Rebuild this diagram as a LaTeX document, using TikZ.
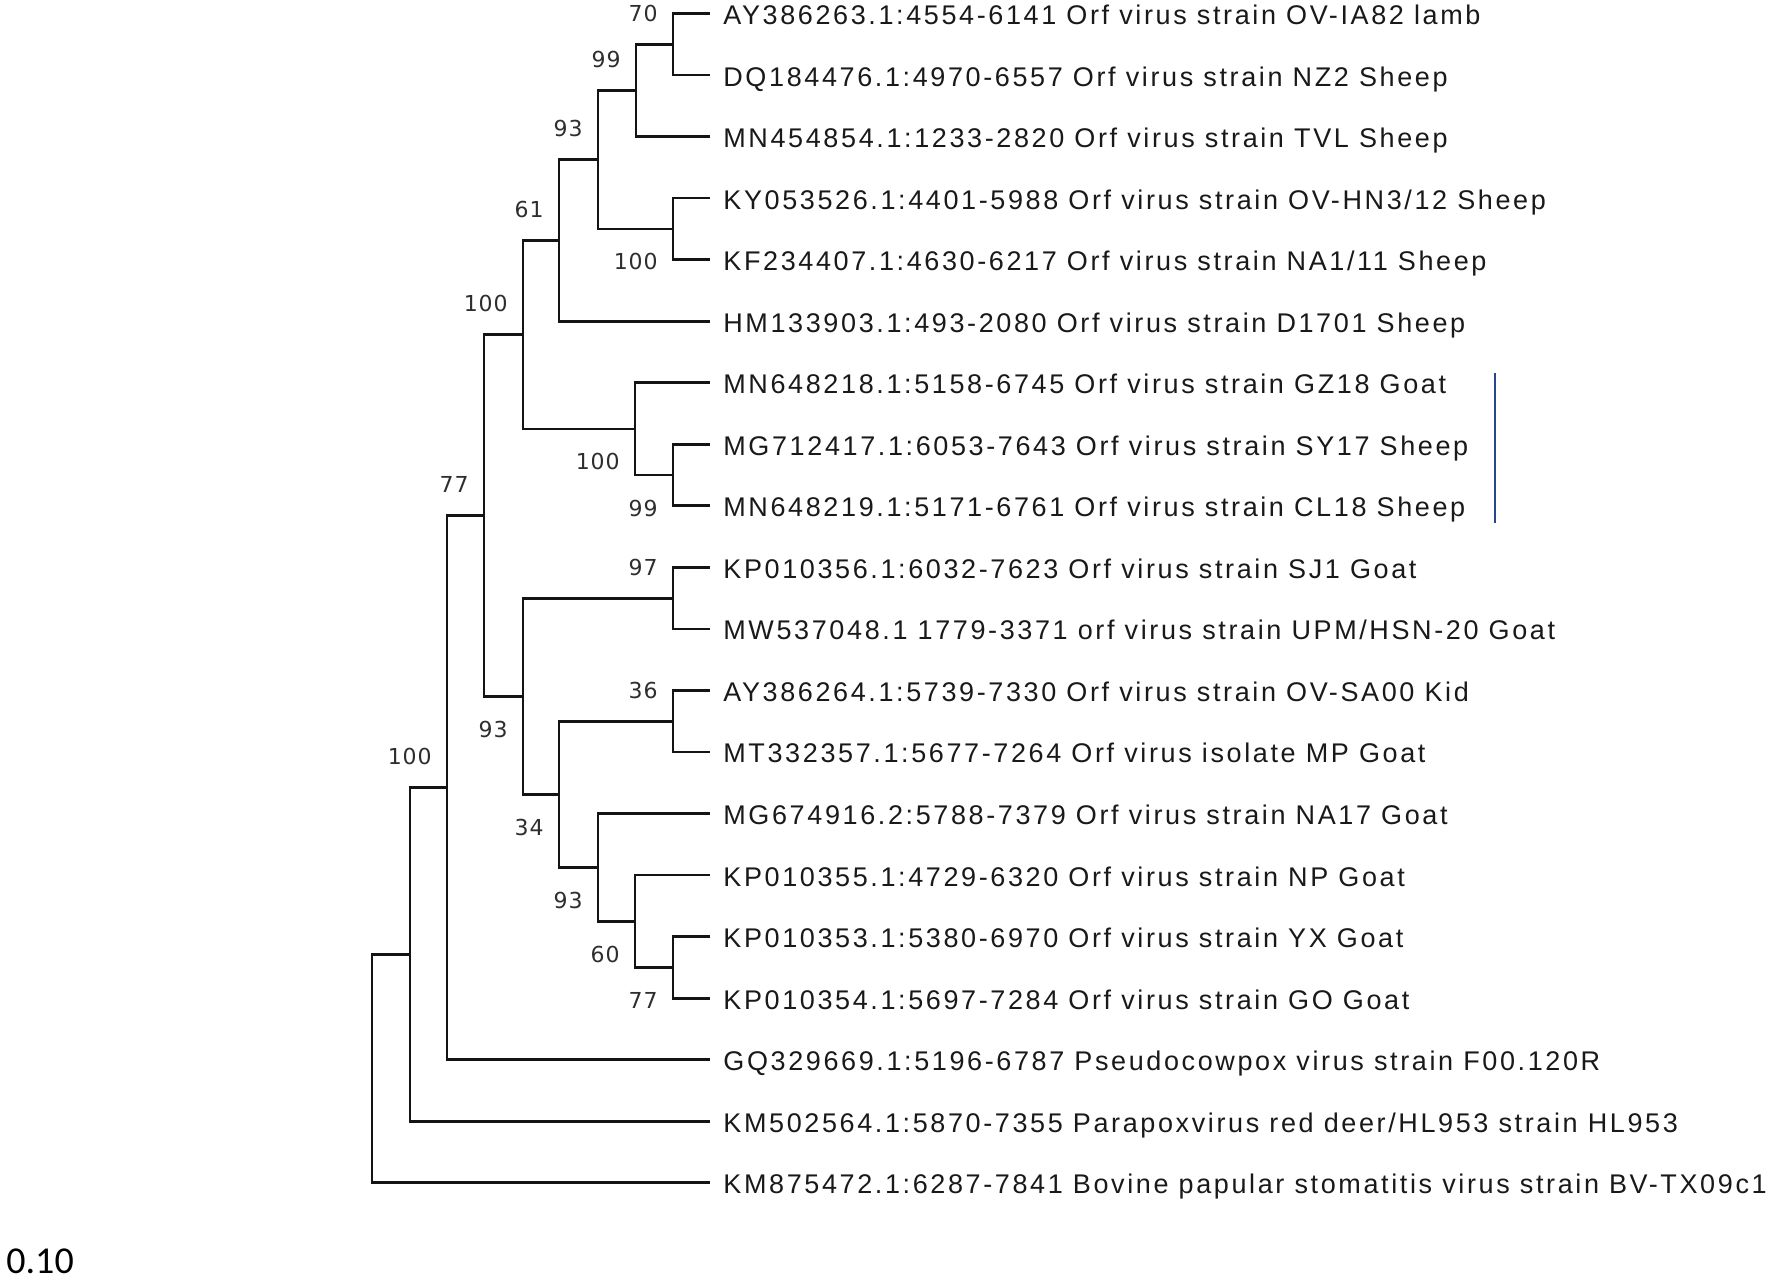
\documentclass[tikz,border=0pt]{standalone}
\usepackage{fontspec}
\newfontfamily\tipfont[LetterSpace=9.7]{Liberation Sans}
\newfontfamily\bsfont[LetterSpace=4]{DejaVu Sans}
\newfontfamily\scfont{Carlito}
\definecolor{bluemark}{RGB}{40,70,140}
\begin{document}
\begin{tikzpicture}[x=0.5pt,y=-0.5pt,
  br/.style={line width=1.35pt, line join=miter, draw=black!92},
  tiplab/.style={anchor=base west, inner sep=0pt, font=\tipfont\fontsize{13.5pt}{16pt}\selectfont, text=black!90},
  bs/.style={anchor=east, inner sep=0pt, font=\bsfont\fontsize{11pt}{13pt}\selectfont, text=black!82},
  bsup/.style={bs, xshift=-7.5pt, yshift=15.5pt},
  bsdn/.style={bs, xshift=-7.5pt, yshift=-16.5pt},
  blueline/.style={draw=bluemark, line width=0.75pt}]
\useasboundingbox (0,0) rectangle (1772,1280);
% tip end points
\foreach \i in {1,...,20}{
  \coordinate (t\i) at (710,{13.5+(\i-1)*61.54});
}
% internal nodes
\coordinate (n70) at (673,44.3);
\coordinate (n99a) at (636,90.4);
\coordinate (n100a) at (673,228.9);
\coordinate (n93a) at (598,159.7);
\coordinate (n61) at (559,240.5);
\coordinate (n99b) at (673,475.0);
\coordinate (n100b) at (635,428.9);
\coordinate (n100c) at (523,334.7);
\coordinate (n97) at (673,598.2);
\coordinate (n36) at (673,721.2);
\coordinate (n77b) at (673,967.4);
\coordinate (n60) at (635,921.3);
\coordinate (n93c) at (598,867.4);
\coordinate (n34) at (559,794.3);
\coordinate (n93b) at (523,696.3);
\coordinate (n77) at (484,515.5);
\coordinate (n100r) at (447,787.6);
\coordinate (nA) at (410,954.4);
\coordinate (root) at (372,1068.6);
% branches
\draw[br] (t1) -| (n70) |- (t2);
\draw[br] (n70) -| (n99a) |- (t3);
\draw[br] (t4) -| (n100a) |- (t5);
\draw[br] (n99a) -| (n93a) |- (n100a);
\draw[br] (n93a) -| (n61) |- (t6);
\draw[br] (t8) -| (n99b) |- (t9);
\draw[br] (t7) -| (n100b) |- (n99b);
\draw[br] (n61) -| (n100c) |- (n100b);
\draw[br] (t10) -| (n97) |- (t11);
\draw[br] (t12) -| (n36) |- (t13);
\draw[br] (t16) -| (n77b) |- (t17);
\draw[br] (t15) -| (n60) |- (n77b);
\draw[br] (t14) -| (n93c) |- (n60);
\draw[br] (n36) -| (n34) |- (n93c);
\draw[br] (n97) -| (n93b) |- (n34);
\draw[br] (n100c) -| (n77) |- (n93b);
\draw[br] (n77) -| (n100r) |- (t18);
\draw[br] (n100r) -| (nA) |- (t19);
\draw[br] (nA) -| (root) |- (t20);
% bootstrap values
\node[bsup] (b70) at (n70) {70};
\node[bsup] (b99a) at (n99a) {99};
\node[bsup] (b93a) at (n93a) {93};
\node[bsdn] (b100a) at (n100a) {100};
\node[bsup] (b61) at (n61) {61};
\node[bsup] (b100c) at (n100c) {100};
\node[bsdn] (b100b) at (n100b) {100};
\node[bsdn] (b99b) at (n99b) {99};
\node[bsup] (b77) at (n77) {77};
\node[bsup] (b97) at (n97) {97};
\node[bsdn] (b93b) at (n93b) {93};
\node[bsup] (b36) at (n36) {36};
\node[bsdn] (b34) at (n34) {34};
\node[bsdn] (b93c) at (n93c) {93};
\node[bsdn] (b60) at (n60) {60};
\node[bsdn] (b77b) at (n77b) {77};
\node[bsup] (b100r) at (n100r) {100};
% tip labels
\node[tiplab] (l1) at ([yshift=-5.5pt]t1 -| 723,0) {AY386263.1:4554-6141 Orf virus strain OV-IA82 lamb};
\node[tiplab] (l2) at ([yshift=-5.5pt]t2 -| 723,0) {DQ184476.1:4970-6557 Orf virus strain NZ2 Sheep};
\node[tiplab] (l3) at ([yshift=-5.5pt]t3 -| 723,0) {MN454854.1:1233-2820 Orf virus strain TVL Sheep};
\node[tiplab] (l4) at ([yshift=-5.5pt]t4 -| 723,0) {KY053526.1:4401-5988 Orf virus strain OV-HN3/12 Sheep};
\node[tiplab] (l5) at ([yshift=-5.5pt]t5 -| 723,0) {KF234407.1:4630-6217 Orf virus strain NA1/11 Sheep};
\node[tiplab] (l6) at ([yshift=-5.5pt]t6 -| 723,0) {HM133903.1:493-2080 Orf virus strain D1701 Sheep};
\node[tiplab] (l7) at ([yshift=-5.5pt]t7 -| 723,0) {MN648218.1:5158-6745 Orf virus strain GZ18 Goat};
\node[tiplab] (l8) at ([yshift=-5.5pt]t8 -| 723,0) {MG712417.1:6053-7643 Orf virus strain SY17 Sheep};
\node[tiplab] (l9) at ([yshift=-5.5pt]t9 -| 723,0) {MN648219.1:5171-6761 Orf virus strain CL18 Sheep};
\node[tiplab] (l10) at ([yshift=-5.5pt]t10 -| 723,0) {KP010356.1:6032-7623 Orf virus strain SJ1 Goat};
\node[tiplab] (l11) at ([yshift=-5.5pt]t11 -| 723,0) {MW537048.1 1779-3371 orf virus strain UPM/HSN-20 Goat};
\node[tiplab] (l12) at ([yshift=-5.5pt]t12 -| 723,0) {AY386264.1:5739-7330 Orf virus strain OV-SA00 Kid};
\node[tiplab] (l13) at ([yshift=-5.5pt]t13 -| 723,0) {MT332357.1:5677-7264 Orf virus isolate MP Goat};
\node[tiplab] (l14) at ([yshift=-5.5pt]t14 -| 723,0) {MG674916.2:5788-7379 Orf virus strain NA17 Goat};
\node[tiplab] (l15) at ([yshift=-5.5pt]t15 -| 723,0) {KP010355.1:4729-6320 Orf virus strain NP Goat};
\node[tiplab] (l16) at ([yshift=-5.5pt]t16 -| 723,0) {KP010353.1:5380-6970 Orf virus strain YX Goat};
\node[tiplab] (l17) at ([yshift=-5.5pt]t17 -| 723,0) {KP010354.1:5697-7284 Orf virus strain GO Goat};
\node[tiplab] (l18) at ([yshift=-5.5pt]t18 -| 723,0) {GQ329669.1:5196-6787 Pseudocowpox virus strain F00.120R};
\node[tiplab] (l19) at ([yshift=-5.5pt]t19 -| 723,0) {KM502564.1:5870-7355 Parapoxvirus red deer/HL953 strain HL953};
\node[tiplab] (l20) at ([yshift=-5.5pt]t20 -| 723,0) {KM875472.1:6287-7841 Bovine papular stomatitis virus strain BV-TX09c1};
% blue mark
\coordinate (m1) at (1495,373);
\coordinate (m2) at (1495,523);
\draw[blueline] (m1) -- (m2);
% scale value
\node[anchor=base west, inner sep=0pt, font=\scfont\fontsize{19pt}{22pt}\selectfont, text=black] (scale) at (6,1273) {0.10};
\end{tikzpicture}
\end{document}
